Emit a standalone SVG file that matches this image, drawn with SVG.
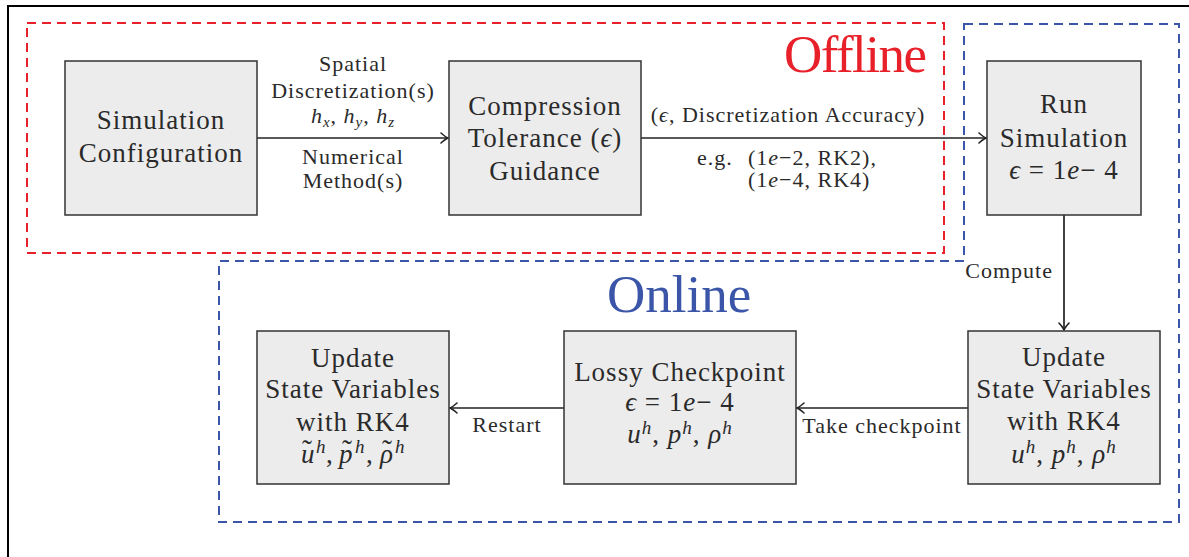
<svg xmlns="http://www.w3.org/2000/svg" width="1189" height="557" viewBox="0 0 1189 557">
<style>
.node rect{fill:#ececec;stroke:#333;stroke-width:1.5}
.nt{font-family:"Liberation Serif","Times New Roman",serif;font-size:27px;letter-spacing:1px;fill:#2a2a2a;text-anchor:middle}
.mt{font-family:"Liberation Serif","Times New Roman",serif;font-size:27px;fill:#2a2a2a}
.lt{font-family:"Liberation Serif","Times New Roman",serif;font-size:22px;letter-spacing:1px;fill:#2a2a2a}
.c{text-anchor:middle}
.i{font-style:italic}
.conn line{stroke:#222;stroke-width:1.7;marker-end:url(#arr)}
.big{font-family:"Liberation Serif","Times New Roman",serif;font-size:53px}
</style>
<defs>
<marker id="arr" viewBox="-10 -7 12 14" refX="0" refY="0" markerWidth="12" markerHeight="14" markerUnits="userSpaceOnUse" orient="auto">
<path d="M-7,-5 Q-2.5,-1 0,0 Q-2.5,1 -7,5" fill="none" stroke="#222" stroke-width="1.6" stroke-linecap="round"/>
</marker>
</defs>
<rect width="1189" height="557" fill="#fff"/>
<g id="frame">
<path d="M8,557 V6 H1189" fill="none" stroke="#000" stroke-width="2"/>
</g>
<g id="offline-region">
<rect x="27" y="23" width="917" height="230" fill="none" stroke="#e8202a" stroke-width="2" stroke-dasharray="9,6"/>
<text class="big" x="784" y="72" fill="#e8202a" letter-spacing="-1.5">Offline</text>
</g>
<g id="online-region">
<path d="M964,24 H1179 V522 H219 V261 H964 Z" fill="none" stroke="#3b55a8" stroke-width="2" stroke-dasharray="9,6"/>
<text class="big" x="607" y="312" fill="#3b55a8">Online</text>
</g>
<g id="conn" class="conn">
<line x1="257" y1="138" x2="448" y2="138"/>
<line x1="641" y1="138" x2="986" y2="138"/>
<line x1="1064" y1="215" x2="1064" y2="330"/>
<line x1="968" y1="408" x2="797" y2="408"/>
<line x1="564" y1="408" x2="450" y2="408"/>
<text class="lt c" x="353" y="71">Spatial</text>
<text class="lt c" x="353" y="98">Discretization(s)</text>
<text class="lt c" x="353" y="123"><tspan class="i">h</tspan><tspan class="i" font-size="15" dy="4">x</tspan><tspan dy="-4">, </tspan><tspan class="i">h</tspan><tspan class="i" font-size="15" dy="4">y</tspan><tspan dy="-4">, </tspan><tspan class="i">h</tspan><tspan class="i" font-size="15" dy="4">z</tspan></text>
<text class="lt c" x="353" y="164">Numerical</text>
<text class="lt c" x="353" y="188">Method(s)</text>
<text class="lt c" x="788" y="122">(<tspan class="i">ϵ</tspan>, Discretization Accuracy)</text>
<text class="lt" y="165"><tspan x="697">e.g.</tspan><tspan x="748">(1<tspan class="i">e</tspan>−2, RK2),</tspan></text>
<text class="lt" x="748" y="187">(1<tspan class="i">e</tspan>−4, RK4)</text>
<text class="lt" x="1053" y="278" text-anchor="end">Compute</text>
<text class="lt c" x="882" y="433">Take checkpoint</text>
<text class="lt c" x="507" y="432">Restart</text>
</g>
<g id="sim-config" class="node">
<rect x="65" y="61" width="192" height="154"/>
<text class="nt" x="161" y="129">Simulation</text>
<text class="nt" x="161" y="162">Configuration</text>
</g>
<g id="compression" class="node">
<rect x="449" y="61" width="192" height="154"/>
<text class="nt" x="545" y="115">Compression</text>
<text class="nt" x="545" y="147">Tolerance (<tspan class="i">ϵ</tspan>)</text>
<text class="nt" x="545" y="180">Guidance</text>
</g>
<g id="run-sim" class="node">
<rect x="987" y="61" width="154" height="154"/>
<text class="nt" x="1064" y="113">Run</text>
<text class="nt" x="1064" y="147">Simulation</text>
<text class="nt" x="1064" y="179"><tspan class="i">ϵ</tspan> = 1<tspan class="i">e</tspan>− 4</text>
</g>
<g id="update-right" class="node">
<rect x="968" y="331" width="192" height="153"/>
<text class="nt" x="1064" y="366">Update</text>
<text class="nt" x="1064" y="398">State Variables</text>
<text class="nt" x="1064" y="430">with RK4</text>
<text class="nt" x="1064" y="463"><tspan class="i">u</tspan><tspan class="i" font-size="19" dy="-10">h</tspan><tspan dy="10">, </tspan><tspan class="i">p</tspan><tspan class="i" font-size="19" dy="-10">h</tspan><tspan dy="10">, </tspan><tspan class="i">ρ</tspan><tspan class="i" font-size="19" dy="-10">h</tspan></text>
</g>
<g id="lossy" class="node">
<rect x="564" y="331" width="232" height="153"/>
<text class="nt" x="680" y="381">Lossy Checkpoint</text>
<text class="nt" x="680" y="411"><tspan class="i">ϵ</tspan> = 1<tspan class="i">e</tspan>− 4</text>
<text class="nt" x="680" y="443"><tspan class="i">u</tspan><tspan class="i" font-size="19" dy="-9">h</tspan><tspan dy="9">, </tspan><tspan class="i">p</tspan><tspan class="i" font-size="19" dy="-9">h</tspan><tspan dy="9">, </tspan><tspan class="i">ρ</tspan><tspan class="i" font-size="19" dy="-9">h</tspan></text>
</g>
<g id="update-left" class="node">
<rect x="257" y="331" width="192" height="153"/>
<text class="nt" x="353" y="367">Update</text>
<text class="nt" x="353" y="398">State Variables</text>
<text class="nt" x="353" y="431">with RK4</text>
<text class="mt"><tspan class="i" x="301" y="463">u</tspan><tspan x="302" y="460" font-size="30">˜</tspan><tspan class="i" font-size="19" x="316" y="453">h</tspan><tspan x="326" y="463">,</tspan><tspan class="i" x="339" y="463">p</tspan><tspan x="342" y="460" font-size="30">˜</tspan><tspan class="i" font-size="19" x="355" y="453">h</tspan><tspan x="366" y="463">,</tspan><tspan class="i" x="380" y="463">ρ</tspan><tspan x="382" y="460" font-size="30">˜</tspan><tspan class="i" font-size="19" x="395" y="453">h</tspan></text>
</g>
</svg>
